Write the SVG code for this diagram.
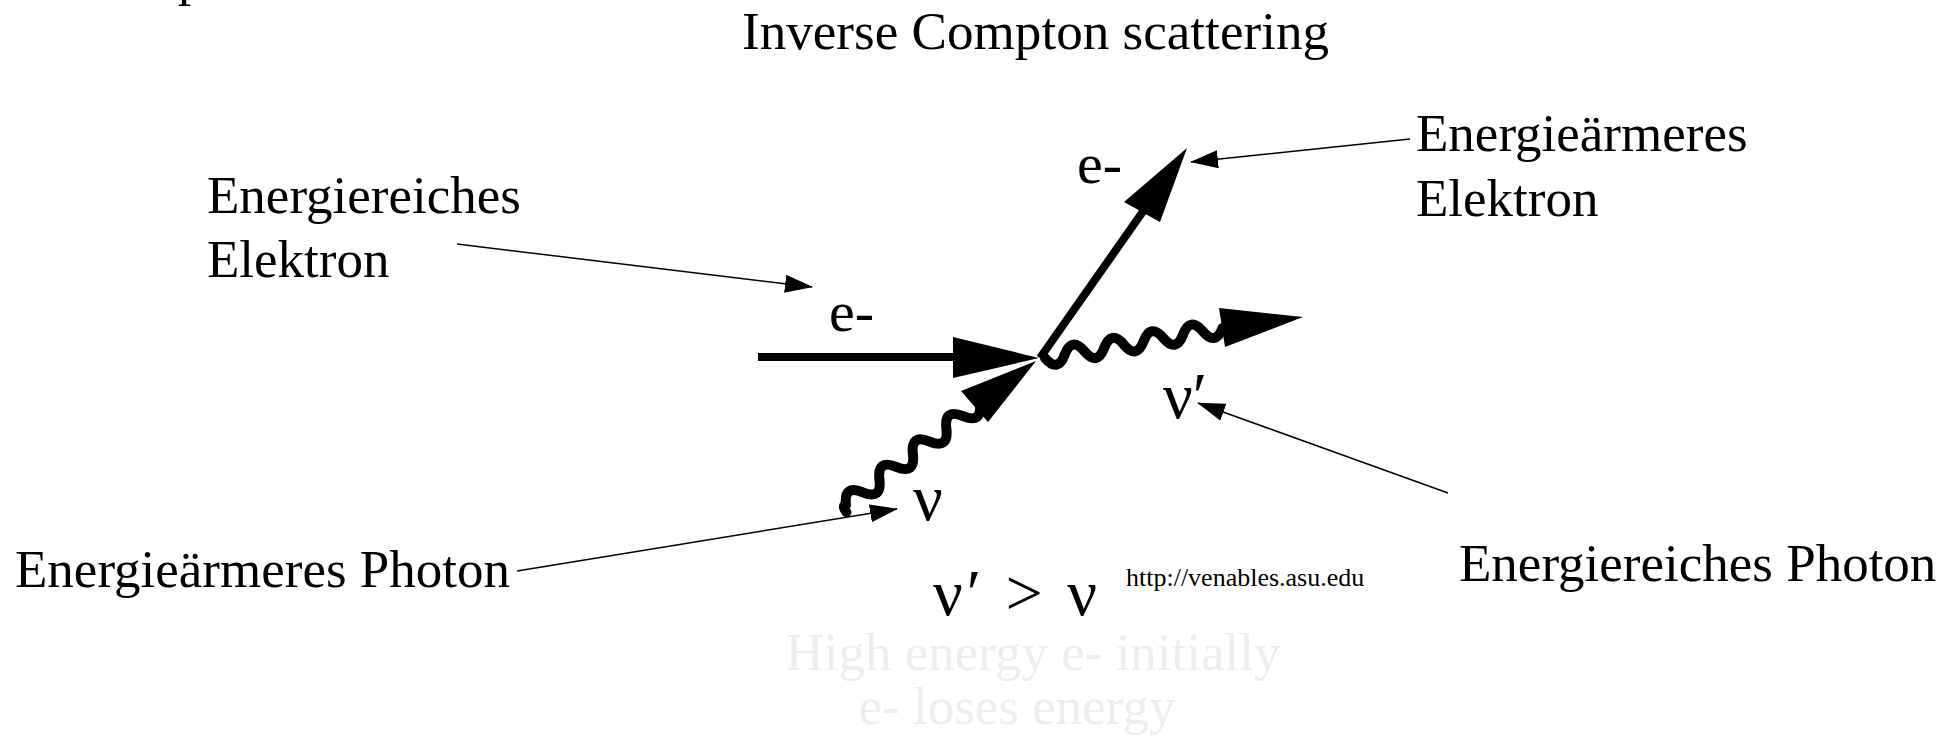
<svg xmlns="http://www.w3.org/2000/svg" width="1946" height="739" viewBox="0 0 1946 739">
<style>
  text { font-family: "Liberation Serif", "Times New Roman", serif; fill: #000; }
  .lbl { font-size: 53px; }
  .sym { font-size: 58px; }
  .greek { font-size: 66px; }
  .url { font-size: 26px; }
  .faded { font-size: 53px; fill: #ededed; }
  .leader { stroke: #000; stroke-width: 1.5; fill: none; marker-end: url(#ah); }
  .thick { stroke: #000; stroke-width: 8; fill: none; }
  .wave { stroke: #000; stroke-width: 10; fill: none; stroke-linecap: round; stroke-linejoin: round; }
</style>
<defs>
  <marker id="ah" markerUnits="userSpaceOnUse" markerWidth="28" markerHeight="18" refX="27" refY="9" orient="auto">
    <path d="M0,0 L28,9 L0,18 z" fill="#000"/>
  </marker>
</defs>
<rect width="1946" height="739" fill="#fff"/>

<text id="fragment" x="178" y="-5" class="lbl">p</text>

<g id="title">
  <text x="742" y="49" class="lbl" textLength="587" lengthAdjust="spacingAndGlyphs">Inverse Compton scattering</text>
</g>

<g id="label-energiereiches-elektron">
  <text x="207" y="213" class="lbl">Energiereiches</text>
  <text x="207" y="277" class="lbl">Elektron</text>
</g>
<g id="label-energiearmeres-elektron">
  <text x="1416" y="151" class="lbl">Energieärmeres</text>
  <text x="1416" y="216" class="lbl">Elektron</text>
</g>
<g id="label-energiearmeres-photon">
  <text x="15" y="587" class="lbl">Energieärmeres Photon</text>
</g>
<g id="label-energiereiches-photon">
  <text x="1459" y="581" class="lbl">Energiereiches Photon</text>
</g>

<g id="electron-in">
  <line x1="758" y1="357" x2="956" y2="357" class="thick"/>
  <polygon points="953,337 1039,358 953,378" fill="#000"/>
  <text x="829" y="331" class="sym">e-</text>
</g>
<g id="electron-out">
  <line x1="1040" y1="358" x2="1144" y2="210" class="thick"/>
  <polygon points="1187,148 1124,202 1160,222" fill="#000"/>
  <text x="1077" y="183" class="sym">e-</text>
</g>
<g id="photon-in">
  <path class="wave" transform="translate(846,505) rotate(-37.2)" d="M-4,6 q0,-8 4,-6 q10.5,-18 21,0 t21,0 t21,0 t21,0 t21,0 t21,0 t21,0 t21,0"/>
  <polygon points="1036,361 961,391 988,422" fill="#000"/>
  <text x="913" y="520" class="greek">ν</text>
</g>
<g id="photon-out">
  <path class="wave" transform="translate(1045,358) rotate(-9.6)" d="M0,0 q10,17 20,0 t20,0 t20,0 t20,0 t20,0 t20,0 t20,0 t20,0 t20,0"/>
  <polygon points="1303,317 1219,308 1225,347" fill="#000"/>
  <text x="1163" y="418" class="greek">ν′</text>
</g>

<g id="relation">
  <text x="933" y="615" class="greek" textLength="164" lengthAdjust="spacing">ν′ &gt; ν</text>
</g>
<g id="url">
  <text x="1126" y="586" class="url">http://venables.asu.edu</text>
</g>
<g id="faded-text">
  <text x="1033" y="670" class="faded" text-anchor="middle">High energy e- initially</text>
  <text x="1017" y="724" class="faded" text-anchor="middle">e- loses energy</text>
</g>

<g id="connectors">
  <line x1="457" y1="244" x2="812" y2="287" class="leader"/>
  <line x1="1410" y1="139" x2="1191" y2="162" class="leader"/>
  <line x1="1448" y1="493" x2="1198" y2="403" class="leader"/>
  <line x1="517" y1="571" x2="897" y2="509" class="leader"/>
</g>
</svg>
